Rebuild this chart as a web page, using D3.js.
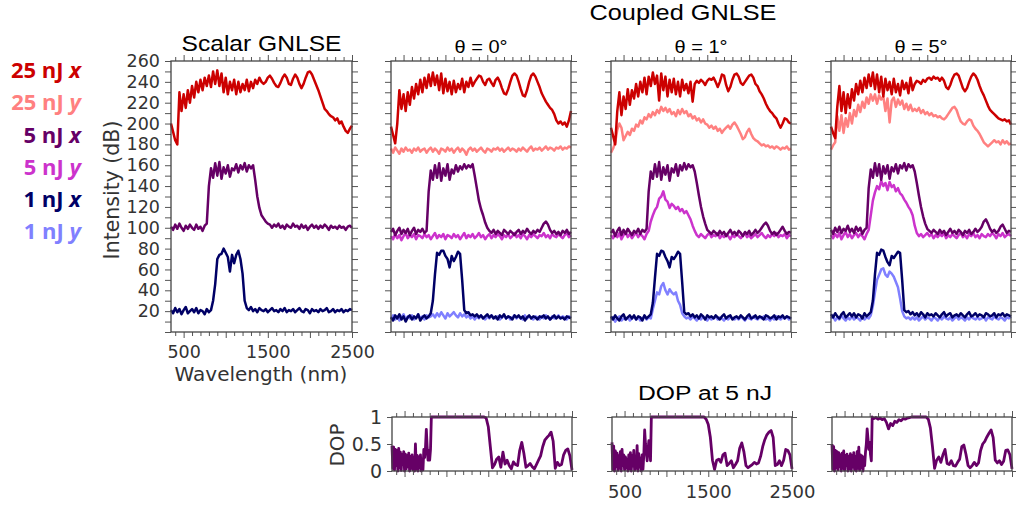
<!DOCTYPE html>
<html><head><meta charset="utf-8">
<script src="https://cdn.jsdelivr.net/npm/d3@7"></script>
<style>
html,body{margin:0;padding:0;background:#fff;}
svg{display:block;}
</style></head><body>
<svg id="chart" width="1016" height="509"></svg>
<script>
// Wavelength grids (nm)
const wavelengths = d3.range(350, 2501, 25);
const dopWavelengths = d3.range(350, 850, 10).concat(d3.range(850, 2501, 25));

// Scalar GNLSE spectra (dB, offset per energy)
const scalarX25 = [200,192,184,180,230,212,228,215,232,220,
  236,225,240,230,242,232,244,236,246,235,
  250,238,251,236,248,230,244,228,240,232,
  242,228,240,230,238,232,242,231,240,234,
  242,238,244,240,238,240,244,246,243,239,
  236,235,239,244,247,244,238,237,243,247,
  244,238,234,238,244,249,250,247,242,237,
  232,226,220,214,212,209,207,206,203,205,
  200,202,197,193,191,195,198];
const scalarX5 = [101,98,103,99,104,100,97,102,99,103,
  100,98,103,99,101,97,102,104,140,157,
  148,162,150,163,147,158,152,160,149,157,
  155,161,153,160,156,162,154,160,157,160,
  146,130,119,112,109,106,104,103,100,103,
  101,104,100,102,99,103,101,100,104,101,
  102,99,103,100,102,98,101,103,100,102,
  99,102,100,103,101,98,102,100,101,99,
  102,100,101,98,101,102,100];
const scalarX1 = [21,18,23,19,22,17,21,24,18,20,
  22,19,23,18,21,20,17,22,19,21,
  30,46,70,74,75,80,76,72,58,74,
  66,74,78,70,56,30,23,21,24,20,
  22,19,23,21,20,22,19,21,23,20,
  21,19,22,20,23,19,21,20,22,19,
  21,23,20,19,22,21,18,22,20,21,
  19,22,20,21,23,19,20,22,19,21,
  20,22,19,21,20,22,21];

// Coupled GNLSE, theta = 0 deg
const th0X25 = [197,189,181,200,232,214,228,212,230,218,
  235,224,238,228,242,230,244,234,247,236,
  249,237,246,232,248,229,243,231,240,228,
  241,230,238,233,243,230,240,235,244,236,
  240,243,246,245,240,237,242,243,239,236,
  242,244,240,234,229,228,233,240,246,248,
  246,240,233,227,226,232,240,246,248,245,
  240,235,229,225,221,218,215,213,209,203,
  200,202,199,201,197,203,212];
const th0Y25 = [176,172,177,174,171,176,173,177,174,175,
  172,176,174,177,173,175,176,172,175,177,
  173,176,174,171,176,175,173,177,174,176,
  172,175,177,173,176,174,170,175,177,174,
  176,173,175,177,174,172,176,175,173,176,
  175,177,174,176,173,175,177,174,176,175,
  173,176,174,177,175,173,176,178,174,176,
  175,177,174,176,178,175,177,176,174,177,
  176,178,175,177,176,178,177];
const th0X5 = [96,99,93,97,100,94,98,95,99,93,
  97,100,94,98,96,99,95,97,135,155,
  146,160,148,162,145,157,150,161,146,156,
  152,160,154,159,156,161,157,160,158,161,
  150,138,126,118,112,105,100,97,95,98,
  94,97,95,93,98,96,94,97,95,93,
  96,98,94,97,95,99,96,94,97,95,
  98,96,100,104,106,103,98,95,97,94,
  96,93,97,95,98,94,96];
const th0Y5 = [92,89,94,90,93,88,92,95,90,93,
  91,94,89,93,92,90,94,91,93,89,
  92,95,90,93,91,94,89,93,92,90,
  94,91,93,89,92,95,90,93,91,94,
  90,92,95,91,93,89,92,94,90,93,
  91,94,92,89,93,91,94,90,92,95,
  91,93,90,94,92,89,93,91,94,92,
  90,93,92,95,91,93,90,94,92,91,
  94,92,90,93,95,91,93];
const th0X1 = [14,11,16,13,17,12,15,10,14,16,
  12,15,13,17,11,14,16,13,15,18,
  30,55,76,74,78,78,73,70,62,73,
  68,72,77,75,50,21,18,19,16,17,
  15,17,14,16,13,15,17,14,16,13,
  15,12,16,14,17,13,15,14,12,16,
  14,16,13,15,11,14,16,13,15,14,
  12,15,14,16,13,15,12,14,16,13,
  15,13,14,12,15,14,13];
const th0Y1 = [13,16,12,15,11,14,17,12,15,13,
  16,12,14,17,13,15,12,16,14,15,
  17,14,18,15,19,16,13,18,15,17,
  19,16,14,18,15,17,14,16,13,15,
  12,15,13,16,14,12,15,13,16,14,
  13,15,12,14,16,13,15,12,14,16,
  13,15,14,12,16,13,15,14,12,15,
  14,12,15,13,16,14,12,15,13,14,
  16,13,15,14,12,15,14];

// Coupled GNLSE, theta = 1 deg
const th1X25 = [196,188,180,212,230,208,226,214,233,218,
  232,224,238,226,240,230,244,228,245,236,
  249,238,246,222,248,232,245,226,242,230,
  243,228,240,226,242,232,238,229,240,221,
  238,241,239,242,240,237,241,243,242,244,
  240,235,240,247,246,237,231,235,242,247,
  248,245,239,237,240,243,246,247,244,238,
  236,231,228,224,219,215,212,210,207,205,
  200,196,200,205,204,201,200];
const th1Y25 = [172,176,182,194,200,196,184,188,192,189,
  195,193,199,197,203,200,206,204,209,206,
  211,208,213,210,216,212,215,211,214,209,
  211,207,213,209,214,210,212,207,209,205,
  207,203,205,201,204,200,199,196,198,195,
  197,193,195,191,194,196,198,195,199,201,
  198,194,190,185,187,192,195,190,186,184,
  183,181,179,180,178,179,177,178,176,178,
  177,175,177,176,178,175,176];
const th1X5 = [95,98,92,97,100,93,98,94,99,96,
  93,97,95,99,94,98,96,99,135,154,
  147,161,149,163,146,158,151,160,145,157,
  153,161,150,160,155,162,156,161,158,160,
  154,143,131,120,111,104,98,96,94,97,
  95,93,97,94,96,92,95,98,94,96,
  93,97,95,92,96,94,97,93,95,98,
  95,97,100,103,105,102,97,94,96,93,
  95,98,101,97,94,96,95];
const th1Y5 = [93,90,94,91,95,89,93,96,91,94,
  90,93,95,91,94,92,89,94,97,106,
  112,117,120,128,130,135,127,125,119,123,
  121,118,120,116,118,114,116,112,108,102,
  97,93,91,94,92,90,93,95,91,93,
  92,95,90,93,91,94,92,89,93,91,
  94,92,90,93,95,91,93,90,92,94,
  91,93,95,92,90,93,91,94,92,95,
  91,93,92,94,90,93,92];
const th1X1 = [15,12,16,13,11,15,17,12,14,16,
  13,16,12,15,14,11,16,13,15,17,
  28,52,75,73,78,77,72,68,62,72,
  70,73,77,75,48,19,17,18,15,17,
  14,16,13,17,15,12,16,14,15,13,
  16,14,12,15,17,13,15,16,12,14,
  15,13,16,14,12,15,17,13,14,16,
  13,15,14,12,16,15,13,14,16,12,
  15,14,16,13,15,14,13];
const th1Y1 = [12,14,10,13,15,11,13,12,14,11,
  13,15,12,14,11,13,15,12,14,13,
  22,30,38,36,44,47,40,36,41,38,
  36,38,30,26,18,15,13,14,12,15,
  13,11,14,12,15,13,11,14,12,13,
  15,12,14,13,11,14,12,15,13,12,
  14,12,15,13,11,14,13,12,15,13,
  12,14,13,15,12,13,11,14,12,15,
  13,12,14,13,15,12,14];

// Coupled GNLSE, theta = 5 deg
const th5X25 = [197,191,186,216,236,212,230,210,228,215,
  233,222,238,228,241,230,244,234,247,236,
  249,233,247,230,245,226,243,232,240,228,
  243,230,238,227,241,233,239,229,244,232,
  238,241,240,238,242,240,243,244,242,245,
  243,244,241,244,241,235,233,237,243,247,
  248,246,240,234,231,234,240,245,248,246,
  242,236,231,227,222,217,213,211,209,207,
  205,204,203,204,202,203,199];
const th5Y25 = [175,179,182,207,193,208,191,205,197,210,
  200,213,207,218,211,221,215,225,219,228,
  222,228,219,227,223,226,212,224,201,222,
  225,216,223,218,222,214,219,213,218,212,
  214,212,215,210,213,209,211,208,210,207,
  208,206,207,205,204,206,209,212,215,216,
  213,207,202,200,199,202,204,203,198,195,
  193,190,186,182,180,178,180,182,184,182,
  183,180,184,181,183,180,181];
const th5X5 = [98,94,100,96,101,95,99,97,102,96,
  99,95,101,97,100,94,98,100,138,156,
  148,162,150,161,146,159,152,160,147,158,
  154,161,152,160,157,162,155,161,158,160,
  154,143,131,120,111,104,99,97,95,98,
  96,94,98,95,97,93,96,99,95,97,
  94,98,96,93,97,95,98,94,96,99,
  96,98,101,106,108,104,99,96,98,95,
  97,101,103,99,95,97,96];
const th5Y5 = [93,90,94,91,95,89,93,96,91,94,
  90,93,95,91,94,92,89,94,98,112,
  126,134,140,137,145,140,143,136,144,139,
  141,135,138,133,131,127,124,120,117,112,
  102,95,92,94,91,93,95,92,94,90,
  93,91,94,92,95,90,93,91,94,92,
  90,93,95,91,93,90,94,92,95,91,
  93,90,94,92,91,94,92,95,93,90,
  94,92,95,91,93,94,92];
const th5X1 = [17,14,18,15,13,17,19,14,16,18,
  15,18,14,17,16,13,18,15,17,19,
  30,55,76,74,79,78,72,67,64,73,
  71,74,77,76,50,21,19,20,17,19,
  16,18,15,19,17,14,18,16,17,15,
  18,16,14,17,19,15,17,18,14,16,
  17,15,18,16,14,17,19,15,16,18,
  15,17,16,14,18,17,15,16,18,14,
  17,16,18,15,17,16,15];
const th5Y1 = [13,15,11,14,12,16,13,11,14,12,
  15,12,14,13,11,15,12,14,13,16,
  25,38,50,55,60,61,55,53,58,56,
  53,48,43,32,20,15,13,14,12,14,
  12,14,11,13,15,12,14,13,11,14,
  13,11,14,12,15,13,12,14,11,13,
  15,12,14,13,11,14,12,15,13,12,
  14,12,13,15,11,14,13,12,15,13,
  12,14,13,11,14,13,15];

// Degree of polarization at 5 nJ
const dopTh0 = [0.47,0.05,0.44,0.02,0.40,0.10,0.38,0.00,0.42,0.06,
  0.35,0.01,0.30,0.12,0.36,0.00,0.31,0.04,0.28,0.08,
  0.33,0.00,0.27,0.05,0.30,0.02,0.25,0.00,0.50,0.03,
  0.29,0.00,0.26,0.06,0.30,0.00,0.22,0.02,0.40,0.25,
  0.44,0.77,0.45,0.20,0.38,0.20,0.40,1.00,1.00,1.00,
  1,1,1,1,1,1,1,1,1,1,
  1,1,1,1,1,1,1,1,1,1,
  1,1,1,1,
  1,0.98,0.82,0.44,0.06,0.12,0.22,0.26,0.07,0.35,
  0.13,0.20,0.10,0.04,0.17,0.12,0.10,0.38,0.53,0.33,
  0.07,0.10,0.14,0.08,0.04,0.12,0.20,0.28,0.45,0.57,
  0.62,0.66,0.72,0.55,0.05,0.16,0.10,0.12,0.30,0.38,
  0.41,0.28,0.02];
const dopTh1 = [0.53,0.03,0.46,0.00,0.37,0.08,0.33,0.01,0.28,0.05,
  0.36,0.00,0.40,0.10,0.30,0.02,0.26,0.06,0.22,0.00,
  0.30,0.04,0.34,0.00,0.29,0.09,0.38,0.01,0.25,0.05,
  0.47,0.00,0.32,0.07,0.24,0.00,0.30,0.03,0.30,0.76,
  0.50,0.35,0.19,0.38,0.56,0.45,0.19,1.00,1.00,1.00,
  1,1,1,1,1,1,1,1,1,1,
  1,1,1,1,1,1,1,1,1,1,
  1,1,1,1,1,
  0.96,0.86,0.62,0.20,0.03,0.20,0.22,0.16,0.30,0.33,
  0.10,0.14,0.19,0.06,0.12,0.19,0.42,0.52,0.36,0.10,
  0.06,0.09,0.12,0.16,0.13,0.15,0.27,0.45,0.58,0.67,
  0.72,0.75,0.62,0.10,0.12,0.19,0.10,0.20,0.40,0.38,
  0.30,0.04];
const dopTh5 = [0.50,0.04,0.45,0.00,0.38,0.06,0.36,0.02,0.34,0.08,
  0.30,0.00,0.33,0.05,0.37,0.01,0.29,0.10,0.31,0.00,
  0.27,0.04,0.32,0.00,0.28,0.07,0.34,0.02,0.26,0.00,
  0.36,0.05,0.44,0.01,0.30,0.06,0.28,0.00,0.25,0.10,
  0.35,0.50,0.78,0.60,0.40,0.53,0.30,0.19,1.00,0.98,
  0.97,0.99,0.96,0.98,0.95,0.97,0.90,0.78,0.88,0.84,
  0.92,0.90,0.95,0.93,0.97,0.96,0.98,0.99,1,1,
  1,1,1,1,1,1,
  0.96,0.80,0.45,0.05,0.20,0.26,0.16,0.30,0.40,0.14,
  0.12,0.19,0.10,0.09,0.16,0.22,0.45,0.48,0.31,0.10,
  0.06,0.10,0.16,0.10,0.15,0.38,0.50,0.55,0.63,0.70,
  0.76,0.62,0.20,0.15,0.19,0.12,0.18,0.38,0.39,0.30,
  0.04];

// Labels and styling
const panelTitles = ["Scalar GNLSE", "θ = 0°", "θ = 1°", "θ = 5°"];
const legendEnergies = ["25 nJ", "25 nJ", "5 nJ", "5 nJ", "1 nJ", "1 nJ"];
const legendPols = ["x", "y", "x", "y", "x", "y"];
const seriesColors = ["#cc0000", "#ff8080", "#660066", "#cc33cc", "#000066", "#8080ff"];
const intensityTickLabels = d3.range(20, 261, 20);
const wavelengthTickLabels = [500, 1500, 2500];
const dopTickLabels = [0, 0.5, 1];

(function () {
  // series per panel: [values, colour index]; y components are drawn first
  const panels = [
    {left: 171, title: panelTitles[0], series: [[scalarX25,0],[scalarX5,2],[scalarX1,4]]},
    {left: 391, title: panelTitles[1], series: [[th0Y25,1],[th0X25,0],[th0Y5,3],[th0X5,2],[th0Y1,5],[th0X1,4]]},
    {left: 611, title: panelTitles[2], series: [[th1Y25,1],[th1X25,0],[th1Y5,3],[th1X5,2],[th1Y1,5],[th1X1,4]]},
    {left: 831, title: panelTitles[3], series: [[th5Y25,1],[th5X25,0],[th5Y5,3],[th5X5,2],[th5Y1,5],[th5X1,4]]}
  ];
  const dopPanels = [
    {left: 391, values: dopTh0, yLabels: true, xLabels: false},
    {left: 611, values: dopTh1, yLabels: false, xLabels: true},
    {left: 831, values: dopTh5, yLabels: false, xLabels: false}
  ];

  const svg = d3.select("#chart");
  const axisFont = "'DejaVu Sans', sans-serif";
  const titleFont = "'Liberation Sans', Arial, sans-serif";
  const inkGray = "#333";

  const plotW = 180, plotTop = 61, plotBottom = 332;
  const dopTop = 417, dopBottom = 471;
  const yScale = d3.scaleLinear().domain([0, 260]).range([plotBottom, plotTop]);
  const dopY = d3.scaleLinear().domain([0, 1]).range([dopBottom, dopTop]);

  function styleAxis(g, fontSize) {
    g.select(".domain").remove();
    g.selectAll(".tick line").attr("stroke", "#555").attr("stroke-width", 1);
    g.selectAll(".tick text").attr("fill", inkGray)
      .style("font-family", axisFont).style("font-size", fontSize + "px");
  }

  function xTicks(g, x, yPos, orient, withLabels) {
    const minor = d3.range(400, 2501, 100);
    const ax = (orient === "bottom" ? d3.axisBottom(x) : d3.axisTop(x))
      .tickValues(minor).tickSize(4).tickPadding(10)
      .tickFormat(d => withLabels && wavelengthTickLabels.includes(d) ? d : "");
    const a = g.append("g").attr("transform", `translate(0,${yPos})`).call(ax);
    styleAxis(a, withLabels === "dop" ? 18 : 17.5);
    a.selectAll(".tick line").attr("y2", d => (d % 500 === 0 ? 6 : 4) * (orient === "bottom" ? 1 : -1));
    return a;
  }

  // spectra panels
  panels.forEach((p, pi) => {
    const x = d3.scaleLinear().domain([350, 2500]).range([p.left, p.left + plotW + (pi === 0 ? 1 : 0)]);
    const g = svg.append("g");
    const r = x.range();

    const line = d3.line().x((d, i) => x(wavelengths[i])).y(d => yScale(d));
    p.series.forEach(([vals, ci]) => {
      g.append("path").datum(vals).attr("d", line)
        .attr("fill", "none").attr("stroke", seriesColors[ci])
        .attr("stroke-width", 2.5).attr("stroke-linejoin", "round");
    });

    // ticks on all four sides
    const yTickVals = d3.range(0, 261, 10);
    const left = g.append("g").attr("transform", `translate(${r[0]},0)`)
      .call(d3.axisLeft(yScale).tickValues(yTickVals).tickSize(6).tickPadding(5)
        .tickFormat(d => pi === 0 && intensityTickLabels.includes(d) ? d : ""));
    styleAxis(left, 17.5);
    const right = g.append("g").attr("transform", `translate(${r[1]},0)`)
      .call(d3.axisRight(yScale).tickValues(yTickVals).tickSize(6).tickFormat(""));
    styleAxis(right, 17);
    xTicks(g, x, plotBottom, "bottom", pi === 0);
    xTicks(g, x, plotTop, "top", false);

    g.append("rect").attr("x", r[0]).attr("y", plotTop).attr("width", r[1] - r[0]).attr("height", plotBottom - plotTop)
      .attr("fill", "none").attr("stroke", "#444").attr("stroke-width", 1.3);

    // panel title
    const tx = (r[0] + r[1]) / 2;
    if (pi === 0) {
      g.append("text").attr("x", tx).attr("y", 51).attr("text-anchor", "middle")
        .style("font-family", titleFont).style("font-size", "22px").attr("fill", "#000")
        .attr("textLength", 160).attr("lengthAdjust", "spacingAndGlyphs").text(p.title);
    } else {
      g.append("text").attr("x", tx).attr("y", 53).attr("text-anchor", "middle")
        .style("font-family", titleFont).style("font-size", "18px").attr("fill", "#000")
        .attr("textLength", 53).attr("lengthAdjust", "spacingAndGlyphs").text(p.title);
    }
  });

  // DOP panels
  dopPanels.forEach(p => {
    const x = d3.scaleLinear().domain([350, 2500]).range([p.left + 1, p.left + plotW + 1]);
    const g = svg.append("g");
    const r = x.range();
    const line = d3.line().x((d, i) => x(dopWavelengths[i])).y(d => dopY(d));
    g.append("path").datum(p.values).attr("d", line)
      .attr("fill", "none").attr("stroke", "#660066")
      .attr("stroke-width", 2.8).attr("stroke-linejoin", "round");

    const left = g.append("g").attr("transform", `translate(${r[0]},0)`)
      .call(d3.axisLeft(dopY).tickValues(dopTickLabels).tickSize(5).tickPadding(5)
        .tickFormat(d => p.yLabels ? d : ""));
    styleAxis(left, 19);
    const right = g.append("g").attr("transform", `translate(${r[1]},0)`)
      .call(d3.axisRight(dopY).tickValues(dopTickLabels).tickSize(5).tickFormat(""));
    styleAxis(right, 18);
    xTicks(g, x, dopBottom, "bottom", p.xLabels ? "dop" : false);
    xTicks(g, x, dopTop, "top", false);
    g.append("rect").attr("x", r[0]).attr("y", dopTop).attr("width", r[1] - r[0]).attr("height", dopBottom - dopTop)
      .attr("fill", "none").attr("stroke", "#444").attr("stroke-width", 1.3);
  });

  // axis titles
  svg.append("text").attr("transform", "translate(119,190) rotate(-90)").attr("text-anchor", "middle")
    .style("font-family", axisFont).style("font-size", "20.5px").attr("fill", inkGray).text("Intensity (dB)");
  svg.append("text").attr("x", 261).attr("y", 381).attr("text-anchor", "middle")
    .style("font-family", axisFont).style("font-size", "20px").attr("fill", inkGray).text("Wavelength (nm)");
  svg.append("text").attr("transform", "translate(344,445) rotate(-90)").attr("text-anchor", "middle")
    .style("font-family", axisFont).style("font-size", "20px").attr("fill", inkGray).text("DOP");

  // figure titles
  svg.append("text").attr("x", 683).attr("y", 20).attr("text-anchor", "middle")
    .style("font-family", titleFont).style("font-size", "22px").attr("fill", "#000")
    .attr("textLength", 187).attr("lengthAdjust", "spacingAndGlyphs").text("Coupled GNLSE");
  svg.append("text").attr("x", 705).attr("y", 400).attr("text-anchor", "middle")
    .style("font-family", titleFont).style("font-size", "20px").attr("fill", "#000")
    .attr("textLength", 134).attr("lengthAdjust", "spacingAndGlyphs").text("DOP at 5 nJ");

  // legend
  const legendBaselines = [78, 110, 143, 175, 207, 239];
  legendEnergies.forEach((e, i) => {
    const t = svg.append("text").attr("x", 81).attr("y", legendBaselines[i]).attr("text-anchor", "end")
      .style("font-family", "'Open Sans', sans-serif").style("font-size", "22px")
      .style("font-weight", "bold").attr("fill", seriesColors[i]);
    t.append("tspan").text(e + " ");
    t.append("tspan").style("font-style", "italic").text(legendPols[i]);
  });
})();
</script>
</body></html>
